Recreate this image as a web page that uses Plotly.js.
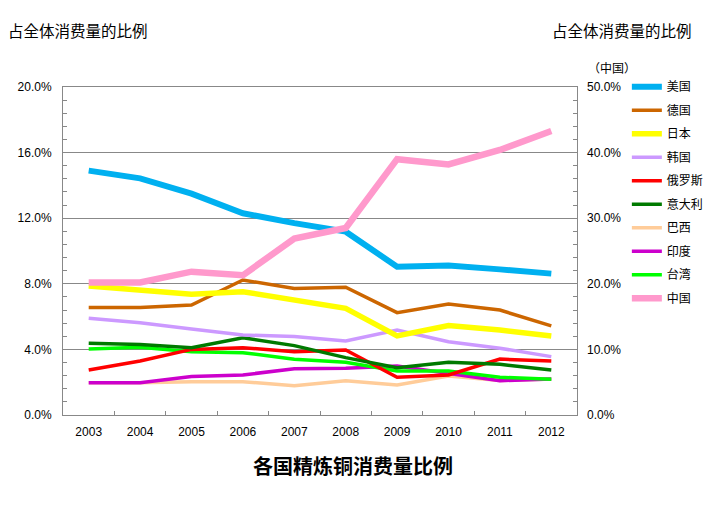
<!DOCTYPE html>
<html>
<head>
<meta charset="utf-8">
<script src="https://cdn.plot.ly/plotly-3.0.1.min.js"></script>
<style>html,body{margin:0;padding:0;background:#fff;}#chart{width:724px;height:516px;}</style>
</head>
<body>
<div id="chart"></div>
<script>
const years = ['2003','2004','2005','2006','2007','2008','2009','2010','2011','2012'];
const usa     = [14.9, 14.43, 13.5, 12.3, 11.7, 11.18, 9.04, 9.12, 8.88, 8.62];
const germany = [6.56, 6.56, 6.7, 8.23, 7.72, 7.79, 6.24, 6.77, 6.4, 5.43];
const japan   = [7.87, 7.65, 7.36, 7.52, 6.97, 6.5, 4.82, 5.45, 5.18, 4.82];
const korea   = [5.9, 5.63, 5.24, 4.88, 4.78, 4.51, 5.18, 4.47, 4.07, 3.56];
const russia  = [2.74, 3.29, 4.0, 4.1, 3.86, 3.96, 2.3, 2.44, 3.41, 3.29];
const italy   = [4.37, 4.3, 4.1, 4.71, 4.23, 3.5, 2.88, 3.21, 3.09, 2.74];
const brazil  = [1.97, 1.97, 2.03, 2.03, 1.79, 2.09, 1.83, 2.38, 2.1, 2.2];
const india   = [1.97, 1.97, 2.34, 2.44, 2.82, 2.85, 2.99, 2.54, 2.09, 2.2];
const taiwan  = [4.02, 4.13, 3.86, 3.8, 3.4, 3.21, 2.68, 2.68, 2.3, 2.18];
const china   = [20.2, 20.2, 21.85, 21.3, 26.9, 28.5, 39.0, 38.2, 40.4, 43.3];

const seriesNames = ['美国','德国','日本','韩国','俄罗斯','意大利','巴西','印度','台湾','中国'];
const seriesData = [usa, germany, japan, korea, russia, italy, brazil, india, taiwan, china];
const seriesColors = ['#00B0F0','#CC6600','#FFFF00','#CC99FF','#FF0000','#007A00','#FFCC99','#CC00CC','#00FF00','#FF99CC'];
const seriesWidths = [6, 3.5, 5.5, 3.5, 3.5, 3.5, 3.5, 3.5, 3.5, 6.5];

const traces = seriesNames.map((n, i) => ({
  type: 'scatter', mode: 'lines', name: n, x: years, y: seriesData[i],
  yaxis: i === 9 ? 'y2' : 'y',
  legendgroup: 'g' + i,
  legendrank: (i + 1) * 10,
  line: {color: seriesColors[i], width: seriesWidths[i]}
}));
// draw order: US and China on top
const order = [6,7,8,4,5,3,1,2,0,9];
const data = order.map(i => traces[i]);

const fnt = 'Liberation Sans, Arial, sans-serif';
const cjk = 'Noto Sans CJK JP, Noto Sans CJK SC, sans-serif';

const layout = {
  width: 724, height: 516,
  margin: {l: 63, r: 147, t: 87, b: 101},
  paper_bgcolor: '#fff', plot_bgcolor: '#fff',
  showlegend: true,
  legend: {
    x: 1.097, xanchor: 'left', y: 1.045, yanchor: 'top',
    traceorder: 'grouped', tracegroupgap: 4.5,
    font: {family: cjk, size: 12, color: '#000'},
    itemwidth: 30, bgcolor: 'rgba(0,0,0,0)'
  },
  xaxis: {
    type: 'category', range: [-0.5, 9.5],
    showline: true, linecolor: '#888', linewidth: 1, mirror: true,
    ticks: 'inside', tickson: 'boundaries', ticklen: 4, tickcolor: '#888',
    ticklabelstandoff: 6,
    showgrid: false, zeroline: false,
    tickfont: {family: fnt, size: 12, color: '#000'}
  },
  yaxis: {
    range: [0, 20], dtick: 4, tickformat: '.1f', ticksuffix: '%',
    showline: true, linecolor: '#888', linewidth: 1, mirror: true,
    ticks: 'inside', ticklen: 4, tickcolor: '#888',
    ticklabelstandoff: 8,
    minor: {dtick: 0.8, ticks: 'inside', ticklen: 4, tickcolor: '#888', showgrid: false},
    showgrid: true, gridcolor: '#888', gridwidth: 1, zeroline: false,
    tickfont: {family: fnt, size: 12, color: '#000'}
  },
  yaxis2: {
    range: [0, 50], dtick: 10, tickformat: '.1f', ticksuffix: '%',
    overlaying: 'y', side: 'right',
    ticks: 'inside', ticklen: 4, tickcolor: '#888',
    ticklabelstandoff: 9,
    minor: {dtick: 2, ticks: 'inside', ticklen: 4, tickcolor: '#888', showgrid: false},
    showgrid: false, zeroline: false, showline: false,
    tickfont: {family: fnt, size: 12, color: '#000'}
  },
  annotations: [
    {text: '占全体消费量的比例', xref: 'paper', yref: 'paper', x: -0.11, y: 1.173, xanchor: 'left', yanchor: 'middle', showarrow: false, font: {family: cjk, size: 15.5, color: '#000'}},
    {text: '占全体消费量的比例', xref: 'paper', yref: 'paper', x: 1.228, y: 1.173, xanchor: 'right', yanchor: 'middle', showarrow: false, font: {family: cjk, size: 15.5, color: '#000'}},
    {text: '（中国）', xref: 'paper', yref: 'paper', x: 1.017, y: 1.06, xanchor: 'left', yanchor: 'middle', showarrow: false, font: {family: cjk, size: 12, color: '#000'}},
    {text: '<b>各国精炼铜消费量比例</b>', xref: 'paper', yref: 'paper', x: 0.565, y: -0.153, xanchor: 'center', yanchor: 'middle', showarrow: false, font: {family: 'Noto Sans CJK SC, sans-serif', size: 20, color: '#000'}}
  ]
};

Plotly.newPlot('chart', data, layout, {displayModeBar: false, staticPlot: true});
</script>
</body>
</html>
